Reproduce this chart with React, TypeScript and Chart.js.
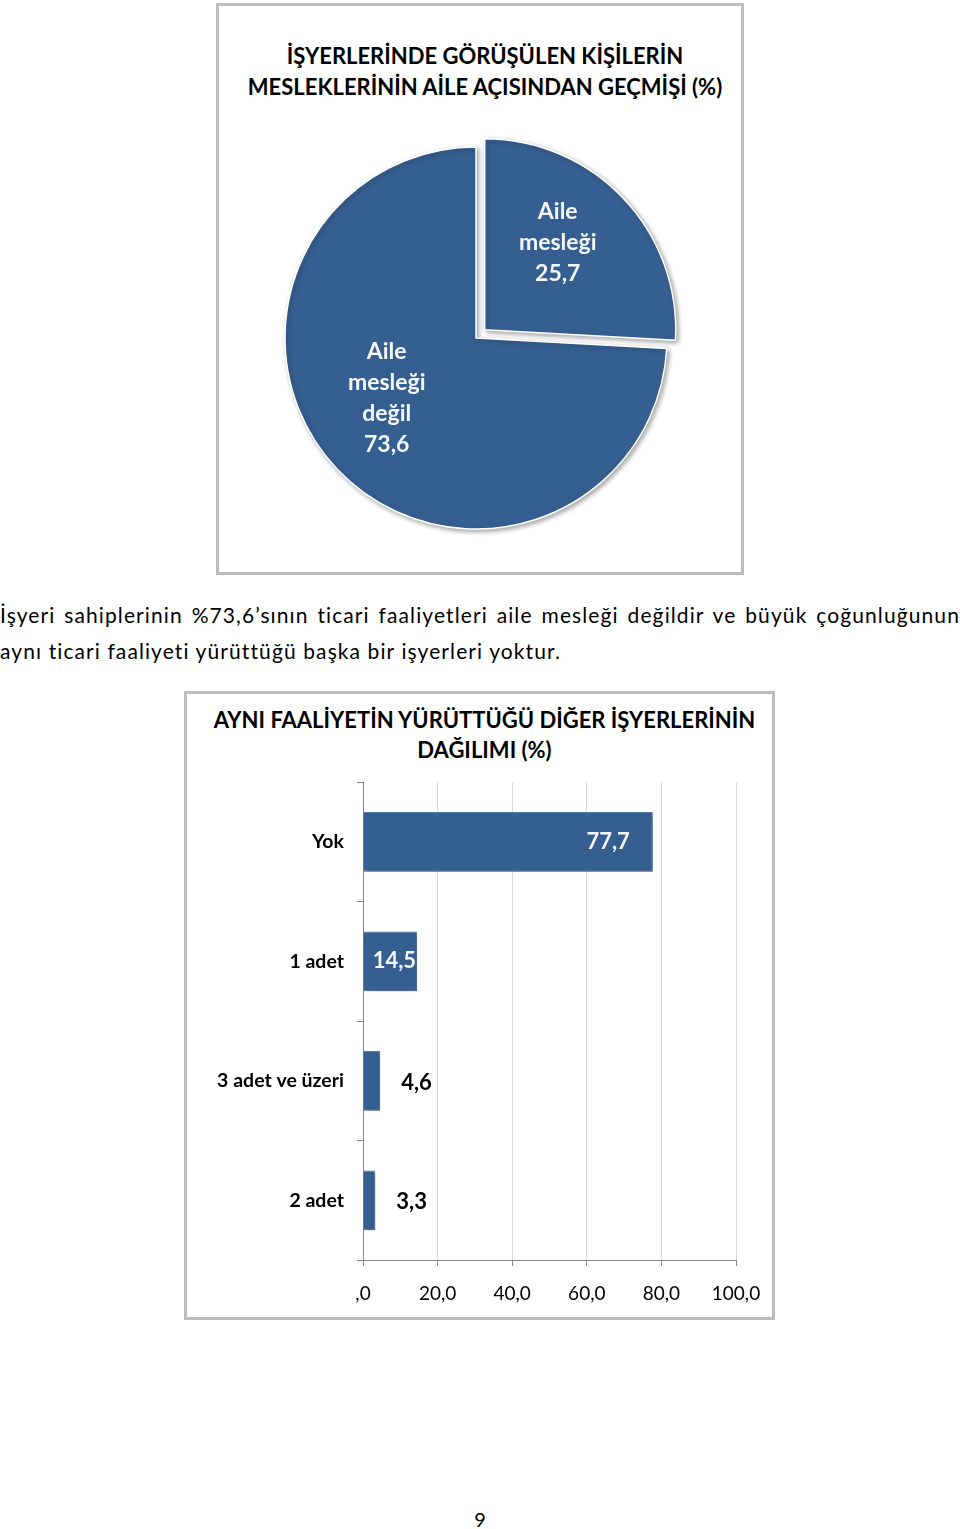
import React, { useEffect, useRef } from "react";
import { Chart, registerables } from "chart.js";

Chart.register(...registerables);

const FONT = "Lato, 'Open Sans', sans-serif";
const BLUE = "#365F91";
const LABEL_WHITE = "#f4f6fa";

// ---- Pie chart data ----
const pieTitle = ["İŞYERLERİNDE GÖRÜŞÜLEN KİŞİLERİN", "MESLEKLERİNİN AİLE AÇISINDAN GEÇMİŞİ (%)"];
const pieLabels = [["Aile", "mesleği"], ["Aile", "mesleği", "değil"]];
const pieValues = [25.7, 73.6];

// ---- Text ----
const paragraphLine1 = "İşyeri sahiplerinin %73,6’sının ticari faaliyetleri aile mesleği değildir ve büyük çoğunluğunun";
const paragraphLine2 = "aynı ticari faaliyeti yürüttüğü başka bir işyerleri yoktur.";
const pageNumber = "9";

// ---- Bar chart data ----
const barTitle = ["AYNI FAALİYETİN YÜRÜTTÜĞÜ DİĞER İŞYERLERİNİN", "DAĞILIMI (%)"];
const barCategories = ["Yok", "1 adet", "3 adet ve üzeri", "2 adet"];
const barValues = [77.7, 14.5, 4.6, 3.3];
const xTicks = [0, 20, 40, 60, 80, 100];

const fmt = (v: number) => (v === 0 ? ",0" : v.toFixed(1).replace(".", ","));

// label placement style for pie (angle turn in degrees, distance as fraction of radius)
const pieLabelTurn = [-7, 10];
const pieLabelDist = [0.6, 0.56];

const shadowPlugin = {
  id: "softShadow",
  beforeDatasetsDraw(chart: any, _args: any, opts: any) {
    const ctx = chart.ctx;
    ctx.save();
    ctx.shadowColor = opts.color || "rgba(0,0,0,0.35)";
    ctx.shadowBlur = opts.blur ?? 4;
    ctx.shadowOffsetX = opts.x ?? 2;
    ctx.shadowOffsetY = opts.y ?? 2;
  },
  afterDatasetsDraw(chart: any) {
    chart.ctx.restore();
  },
};

const pieLabelPlugin = {
  id: "pieLabels",
  afterDraw(chart: any) {
    const meta = chart.getDatasetMeta(0);
    const ctx = chart.ctx;
    ctx.save();
    ctx.font = `bold 23px ${FONT}`;
    ctx.fillStyle = LABEL_WHITE;
    ctx.textAlign = "center";
    ctx.textBaseline = "middle";
    meta.data.forEach((arc: any, i: number) => {
      const p = arc.getProps(["x", "y", "startAngle", "endAngle", "outerRadius", "circumference"], true);
      const mid = (p.startAngle + p.endAngle) / 2;
      const off = (arc.options.offset || 0) / 4;
      const fix = 1 - Math.sin(Math.min(Math.PI, p.circumference || 0));
      const shift = off * (1 + fix);
      const cx = p.x + Math.cos(mid) * shift;
      const cy = p.y + Math.sin(mid) * shift;
      const a = mid + (pieLabelTurn[i] * Math.PI) / 180;
      const r = p.outerRadius * pieLabelDist[i];
      const lx = cx + Math.cos(a) * r;
      const ly = cy + Math.sin(a) * r + 1;
      const lines = [...pieLabels[i], fmt(pieValues[i])];
      const lh = 31;
      lines.forEach((t, k) => ctx.fillText(t, lx, ly + (k - (lines.length - 1) / 2) * lh));
    });
    ctx.restore();
  },
};

const barLabelPlugin = {
  id: "barLabels",
  afterDraw(chart: any) {
    const meta = chart.getDatasetMeta(0);
    const ctx = chart.ctx;
    ctx.save();
    ctx.font = `bold 22px ${FONT}`;
    ctx.textBaseline = "middle";
    meta.data.forEach((bar: any, i: number) => {
      const p = bar.getProps(["x", "y", "base"], true);
      const v = barValues[i];
      const t = fmt(v);
      if (v >= 50) {
        ctx.fillStyle = LABEL_WHITE;
        ctx.textAlign = "right";
        ctx.fillText(t, p.x - 23, p.y);
      } else if (v >= 10) {
        ctx.fillStyle = LABEL_WHITE;
        ctx.textAlign = "right";
        ctx.fillText(t, p.x - 1, p.y);
      } else {
        ctx.fillStyle = "#000000";
        ctx.textAlign = "left";
        ctx.fillText(t, p.x + 21, p.y + 2);
      }
    });
    ctx.restore();
  },
};

export default function App() {
  const pieRef = useRef<HTMLCanvasElement>(null);
  const barRef = useRef<HTMLCanvasElement>(null);

  useEffect(() => {
    Chart.defaults.font.family = FONT;
    const pie = new Chart(pieRef.current as HTMLCanvasElement, {
      type: "pie",
      data: {
        labels: pieLabels.map((l) => l.join(" ")),
        datasets: [
          {
            data: pieValues,
            backgroundColor: BLUE,
            borderColor: "#ffffff",
            borderWidth: 1.5,
            offset: [48, 0],
            radius: 191,
          } as any,
        ],
      },
      options: {
        responsive: false,
        animation: false,
        events: [],
        layout: { padding: 0 },
        plugins: {
          legend: { display: false },
          tooltip: { enabled: false },
          softShadow: { color: "rgba(0,0,0,0.35)", blur: 5, x: 2, y: 2 },
        } as any,
      },
      plugins: [shadowPlugin, pieLabelPlugin],
    });

    const bar = new Chart(barRef.current as HTMLCanvasElement, {
      type: "bar",
      data: {
        labels: barCategories,
        datasets: [
          {
            data: barValues,
            backgroundColor: BLUE,
            borderColor: "#5a7fae",
            borderWidth: 1,
            categoryPercentage: 1,
            barPercentage: 0.5,
          },
        ],
      },
      options: {
        indexAxis: "y",
        responsive: false,
        animation: false,
        events: [],
        layout: { padding: { left: 6, right: 35, top: 88, bottom: 0 } },
        plugins: {
          legend: { display: false },
          tooltip: { enabled: false },
          title: { display: false },
          softShadow: { color: "rgba(0,0,0,0.35)", blur: 4, x: 2, y: 2 },
        } as any,
        scales: {
          x: {
            min: 0,
            max: 100,
            afterBuildTicks: (s: any) => {
              s.ticks = xTicks.map((v) => ({ value: v }));
            },
            ticks: {
              callback: (v: any) => fmt(Number(v)),
              color: "#000000",
              font: { family: FONT, size: 19 },
              padding: 16,
              maxRotation: 0,
            },
            grid: { color: "#d9d9d9", tickColor: "#868686", tickLength: 6, lineWidth: 1 },
            border: { color: "#868686", width: 1 },
            afterFit: (s: any) => {
              s.height = 57;
              s.paddingLeft = 0;
              s.paddingRight = 0;
            },
          },
          y: {
            ticks: {
              color: "#000000",
              font: { family: FONT, size: 19.5, weight: "bold" },
              padding: 13,
            },
            grid: { drawOnChartArea: false, tickColor: "#868686", tickLength: 6, offset: true },
            border: { color: "#868686", width: 1 },
            afterFit: (s: any) => {
              s.width = 170;
              s.paddingTop = 0;
              s.paddingBottom = 0;
            },
          },
        },
      } as any,
      plugins: [shadowPlugin, barLabelPlugin],
    });

    return () => {
      pie.destroy();
      bar.destroy();
    };
  }, []);

  const box = (left: number, top: number, w: number, h: number): React.CSSProperties => ({
    position: "absolute",
    left,
    top,
    width: w,
    height: h,
    boxSizing: "border-box",
    border: "3px solid #bcbcbc",
    background: "#ffffff",
  });

  const titleStyle = (center: number, top: number, lh: number): React.CSSProperties => ({
    position: "absolute",
    left: 0,
    width: center * 2,
    top,
    textAlign: "center",
    fontWeight: "bold",
    fontSize: 22,
    lineHeight: `${lh}px`,
    whiteSpace: "nowrap",
  });

  return (
    <div
      style={{
        position: "absolute",
        left: 0,
        top: 0,
        width: 960,
        height: 1529,
        background: "#ffffff",
        overflow: "hidden",
        fontFamily: FONT,
        color: "#000",
      }}
    >
      <div style={box(216, 3, 528, 572)} />
      <div style={titleStyle(485, 39.5, 31)}>
        {pieTitle.map((t) => (
          <div key={t}>{t}</div>
        ))}
      </div>
      <canvas
        ref={pieRef}
        width={500}
        height={500}
        style={{ position: "absolute", left: 226, top: 88, width: 500, height: 500 }}
      />

      <div
        style={{
          position: "absolute",
          left: 0,
          top: 597,
          width: 960,
          fontSize: 21,
          letterSpacing: "1.1px",
          lineHeight: "36px",
        }}
      >
        <div style={{ textAlign: "justify", textAlignLast: "justify" as any }}>{paragraphLine1}</div>
        <div>{paragraphLine2}</div>
      </div>

      <div style={box(184, 691, 591, 629)} />
      <div style={titleStyle(484.5, 704.6, 30.8)}>
        {barTitle.map((t) => (
          <div key={t}>{t}</div>
        ))}
      </div>
      <canvas
        ref={barRef}
        width={584}
        height={623}
        style={{ position: "absolute", left: 187, top: 694, width: 584, height: 623 }}
      />

      <div
        style={{
          position: "absolute",
          left: 0,
          width: 960,
          top: 1507,
          textAlign: "center",
          fontSize: 20,
          lineHeight: "24px",
        }}
      >
        {pageNumber}
      </div>
    </div>
  );
}
